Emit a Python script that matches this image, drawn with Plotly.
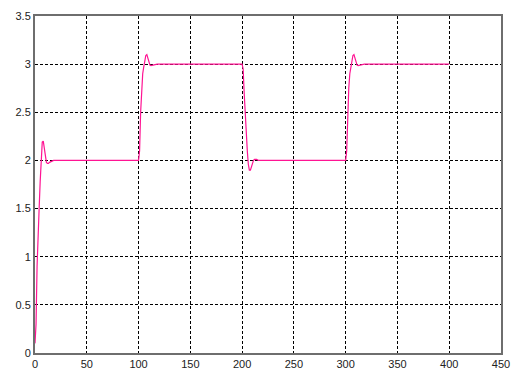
import plotly.graph_objects as go

# time samples and response values
t_seg1 = [0, 1, 2, 3, 4, 5, 6, 7, 8, 9, 10, 11, 12, 13, 14, 16, 18, 100]
y_seg1 = [0.1, 0.3, 0.9, 1.35, 1.5, 1.78, 2.05, 2.19, 2.2, 2.12, 2.02, 1.98, 1.97, 1.97, 1.98, 1.99, 2.0, 2.0]

t_seg2 = [101, 102, 103, 104, 105, 106, 107, 108, 109, 110, 111, 112, 114, 116, 118, 200]
y_seg2 = [2.1, 2.5, 2.75, 2.9, 2.97, 3.05, 3.09, 3.1, 3.06, 3.01, 2.99, 2.985, 2.99, 3.0, 3.0, 3.0]

t_seg3 = [201, 202, 203, 204, 205, 206, 207, 208, 209, 210, 211, 212, 214, 216, 300]
y_seg3 = [2.95, 2.7, 2.45, 2.25, 2.1, 1.96, 1.9, 1.9, 1.93, 1.98, 2.0, 2.01, 2.01, 2.0, 2.0]

t_seg4 = [301, 302, 303, 304, 305, 306, 307, 308, 309, 310, 311, 312, 314, 316, 318, 400]
y_seg4 = [2.1, 2.5, 2.75, 2.9, 2.97, 3.05, 3.09, 3.1, 3.06, 3.01, 2.99, 2.985, 2.99, 3.0, 3.0, 3.0]

x_ticks = [0, 50, 100, 150, 200, 250, 300, 350, 400, 450]
y_ticks = [0, 0.5, 1, 1.5, 2, 2.5, 3, 3.5]

t = t_seg1 + t_seg2 + t_seg3 + t_seg4
y = y_seg1 + y_seg2 + y_seg3 + y_seg4

fig = go.Figure()
fig.add_trace(go.Scatter(x=t, y=y, mode="lines",
                         line=dict(color="#ff1493", width=1.2, shape="linear"),
                         showlegend=False))

axis_common = dict(
    showline=True, linecolor="#6e6e6e", linewidth=2, mirror=True,
    showgrid=True, gridcolor="#000000", gridwidth=1, griddash="3px,2px",
    zeroline=False, ticks="", automargin=False,
    tickfont=dict(family="Liberation Sans, Arial", size=11, color="#222"),
)

fig.update_layout(
    width=511, height=372,
    margin=dict(l=35, r=10, t=16, b=19),
    paper_bgcolor="white", plot_bgcolor="white",
    xaxis=dict(range=[0, 450], tickvals=x_ticks, ticktext=[str(v) for v in x_ticks], **axis_common),
    yaxis=dict(range=[0, 3.5], tickvals=y_ticks, ticktext=[f"{v:g}" for v in y_ticks], **axis_common),
)

fig.write_html("out.html")
